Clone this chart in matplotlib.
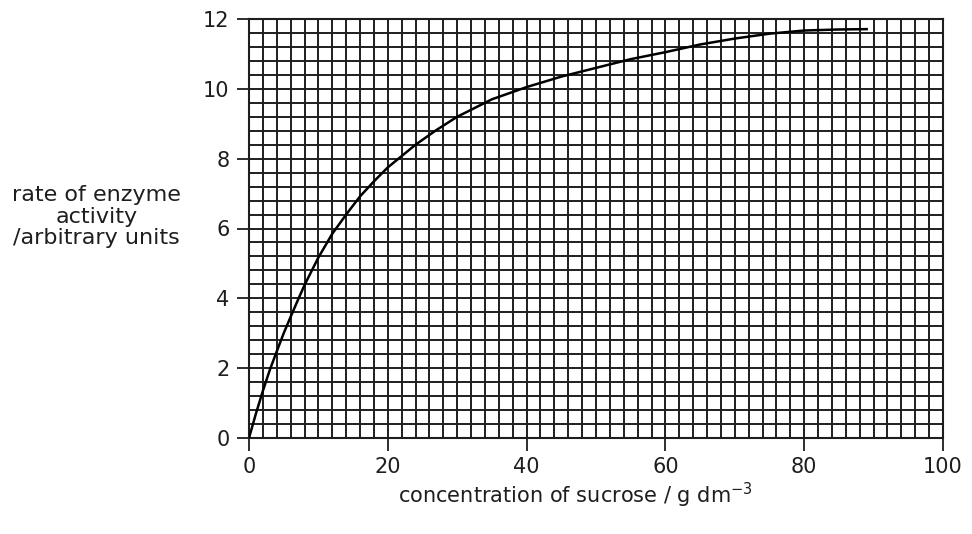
import numpy as np
import matplotlib.pyplot as plt
import matplotlib.ticker as ticker

# values
sucrose = [0, 1, 2, 3, 4, 5, 6, 7, 8, 10, 12, 14, 16, 18, 20, 24, 27, 30, 35, 40, 45, 50, 55,
           60, 65, 70, 75, 80, 85, 89]
rate = [0, 0.7, 1.35, 1.95, 2.48, 3.0, 3.47, 3.93, 4.38, 5.17, 5.85, 6.4, 6.92, 7.35, 7.75, 8.4,
        8.82, 9.2, 9.7, 10.05, 10.35, 10.6, 10.85, 11.05, 11.27, 11.44, 11.58, 11.67, 11.7, 11.71]

x_ticks = [0, 20, 40, 60, 80, 100]
y_ticks = [0, 2, 4, 6, 8, 10, 12]

plt.rcParams['font.family'] = ['DejaVu Sans']
ink = '#1e1e1e'

fig = plt.figure(figsize=(9.72, 5.34), dpi=100)
ax = fig.add_axes([249 / 972, 1 - 438 / 534, (943 - 249) / 972, (438 - 19) / 534])

ax.set_xlim(0, 100)
ax.set_ylim(0, 12)

# graph paper grid
ax.xaxis.set_minor_locator(ticker.MultipleLocator(2))
ax.yaxis.set_minor_locator(ticker.MultipleLocator(0.4))
ax.grid(which='both', color=ink, linewidth=1.4)
ax.set_axisbelow(True)

ax.plot(sucrose, rate, color='black', linewidth=1.8, zorder=3)

ax.set_xticks(x_ticks)
ax.set_yticks(y_ticks)
ax.tick_params(which='major', length=9, width=1.3, color=ink, labelsize=15,
               labelcolor=ink, pad=5)
ax.tick_params(which='minor', length=0)

for s in ax.spines.values():
    s.set_color(ink)
    s.set_linewidth(1.5)

fig.text(0.099, 0.594, 'rate of enzyme\nactivity\n/arbitrary units', ha='center', va='center',
         fontsize=16, color=ink, linespacing=1.1)
fig.text(0.592, 0.072, r'concentration of sucrose / g dm$^{-3}$', ha='center', va='center',
         fontsize=15, color=ink)

fig.savefig('out.png', dpi=100)
